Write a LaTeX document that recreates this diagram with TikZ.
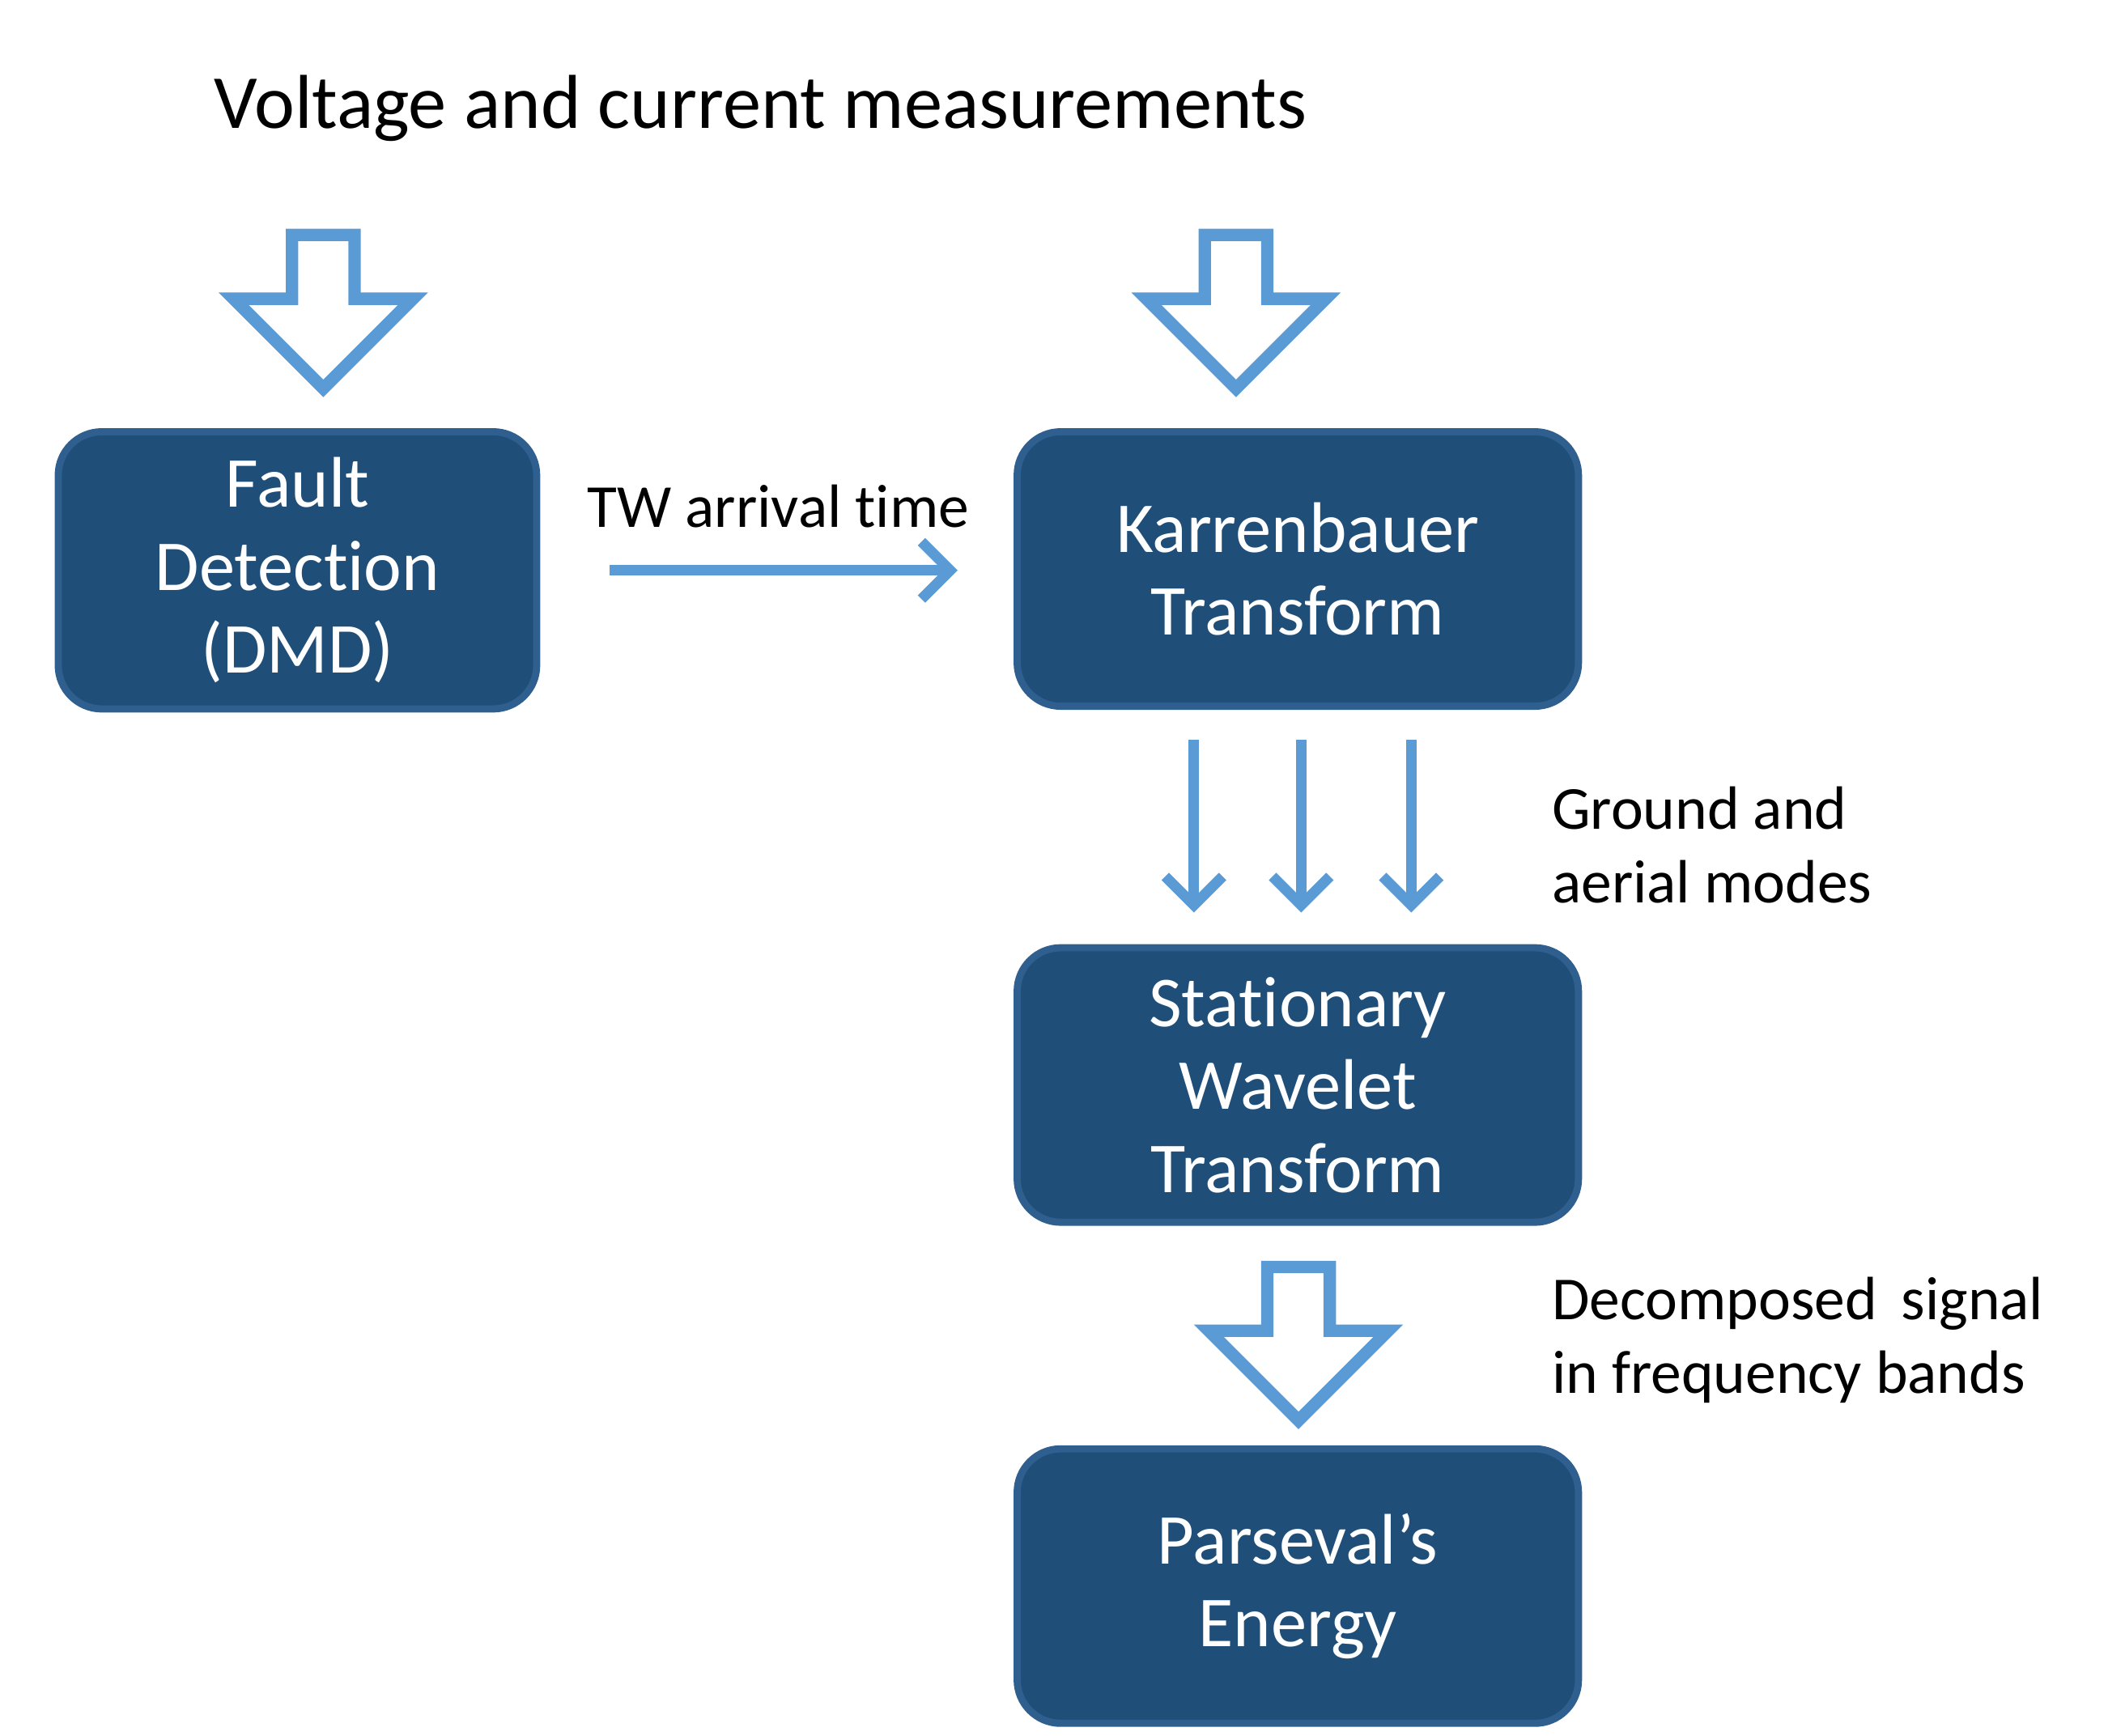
\documentclass[tikz,border=0pt]{standalone}
\usepackage{fontspec}
\setmainfont[Ligatures={NoCommon}]{Carlito}
\usetikzlibrary{arrows.meta}
\begin{document}
\begin{tikzpicture}[x=0.01cm,y=-0.01cm,
  box/.style={draw=boxedge,fill=boxfill,line width=1.5pt,rounded corners=0.32cm,text=white,align=center,font=\fontsize{15}{17.4}\selectfont,inner sep=0pt},
  lab/.style={font=\fontsize{12.8}{15.4}\selectfont,align=left,inner sep=0pt},
  thin/.style={draw=arr,line width=2.2pt,-{Straight Barb[length=6pt,width=12pt]}},
  harrow/.pic={\draw[arr,line width=2.6pt,line join=miter] (-23,0) -- (23,0) -- (23,47) -- (66,47) -- (0,113) -- (-66,47) -- (-23,47) -- cycle;}]
\definecolor{boxfill}{HTML}{1F4E79}
\definecolor{boxedge}{HTML}{2E5F8E}
\definecolor{arr}{HTML}{5B9BD5}
\useasboundingbox (0,0) rectangle (1552,1278);
\node[anchor=west,inner sep=0pt,font=\fontsize{16}{19}\selectfont] (title) at (157,80) {Voltage and current measurements};
\pic at (238,173) {harrow};
\pic at (910,173) {harrow};
\pic at (956,933) {harrow};
\node[box,minimum width=3.52cm,minimum height=2.04cm] (fd) at (219,420) {Fault\\Detection\\(DMD)};
\node[box,minimum width=4.13cm,minimum height=2.02cm] (kt) at (955.5,419) {Karrenbauer\\Transform};
\node[box,minimum width=4.13cm,minimum height=2.02cm] (swt) at (955.5,799) {Stationary\\Wavelet\\Transform};
\node[box,minimum width=4.13cm,minimum height=2.02cm] (pe) at (955.5,1168) {Parseval\char"0027 s\\Energy};
\node[lab] (tw) at (573,373) {TW arrival time};
\coordinate (twa) at (449,420); \coordinate (twb) at (705,420);
\draw[thin] (twa) -- (twb);
\foreach \x/\n in {879/a,958/b,1039/c}{
  \coordinate (s\n) at (\x,545); \coordinate (e\n) at (\x,672);
  \draw[thin] (s\n) -- (e\n);}
\node[lab,anchor=west] (gm) at (1142,622) {Ground and\\aerial modes};
\node[lab,anchor=west] (ds) at (1142,987) {Decomposed\, signal\\in frequency bands};
\end{tikzpicture}
\end{document}
